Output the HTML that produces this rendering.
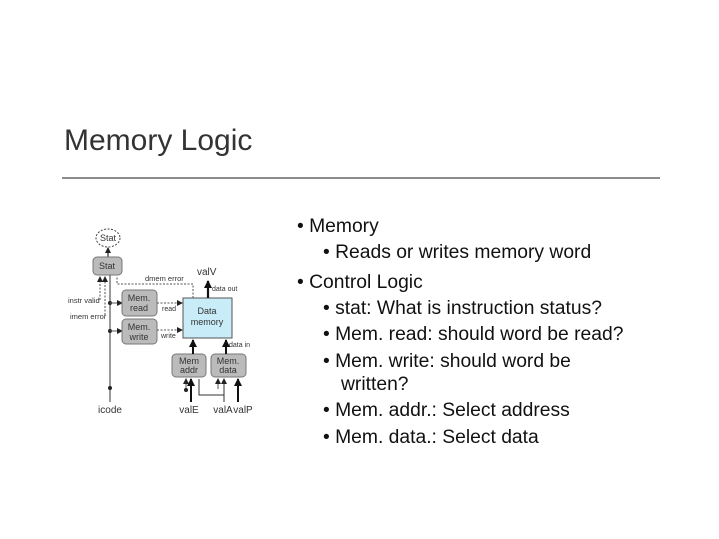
<!DOCTYPE html>
<html><head><meta charset="utf-8"><style>
html,body{margin:0;padding:0;background:#fff;}
svg{display:block;}
</style></head><body>
<svg width="719" height="539" viewBox="0 0 719 539" xmlns="http://www.w3.org/2000/svg" font-family="Liberation Sans, sans-serif">
<defs>
<marker id="a" markerUnits="userSpaceOnUse" markerWidth="6" markerHeight="6" refX="5" refY="3" orient="auto"><path d="M0,0 L6,3 L0,6z" fill="#222"/></marker>
<marker id="b" markerUnits="userSpaceOnUse" markerWidth="8" markerHeight="8" refX="7" refY="4" orient="auto"><path d="M0,0 L8,4 L0,8z" fill="#111"/></marker>
</defs>
<text x="64" y="150" font-size="30" fill="#333">Memory Logic</text>
<line x1="62" y1="178" x2="660" y2="178" stroke="#666" stroke-width="1.5"/>
<g fill="#111" font-size="19.3">
<text x="297" y="232">• Memory</text>
<text x="323" y="258">• Reads or writes memory word</text>
<text x="297" y="288">• Control Logic</text>
<text x="323" y="314">• stat: What is instruction status?</text>
<text x="323" y="340">• Mem. read: should word be read?</text>
<text x="323" y="367">• Mem. write: should word be</text>
<text x="341" y="390">written?</text>
<text x="323" y="416">• Mem. addr.: Select address</text>
<text x="323" y="443">• Mem. data.: Select data</text>
</g>
<g font-size="9" fill="#333">
<ellipse cx="108" cy="238" rx="12" ry="9" fill="#fff" stroke="#444" stroke-dasharray="2,1.5"/>
<text x="108" y="241" text-anchor="middle" font-size="9">Stat</text>
<line x1="108" y1="257" x2="108" y2="248" stroke="#222" stroke-width="1.2" marker-end="url(#a)"/>
<rect x="93" y="257" width="29" height="18" rx="4" fill="#bbb" stroke="#777"/>
<text x="107" y="269" text-anchor="middle">Stat</text>
<line x1="110" y1="275" x2="110" y2="402" stroke="#555" stroke-width="1.2"/>
<circle cx="110" cy="388" r="2" fill="#222"/>
<circle cx="110" cy="303" r="2" fill="#222"/>
<circle cx="110" cy="331" r="2" fill="#222"/>
<line x1="110" y1="303" x2="122" y2="303" stroke="#555" marker-end="url(#a)"/>
<line x1="110" y1="331" x2="122" y2="331" stroke="#555" marker-end="url(#a)"/>
<line x1="100" y1="300" x2="100" y2="277" stroke="#555" stroke-dasharray="2,1.5" marker-end="url(#a)"/>
<line x1="105" y1="315" x2="105" y2="277" stroke="#555" stroke-dasharray="2,1.5" marker-end="url(#a)"/>
<polyline points="193,298 193,284 117,284 117,277" fill="none" stroke="#555" stroke-dasharray="2,1.5"/>
<text x="68" y="303" font-size="7.5">instr valid</text>
<text x="70" y="319" font-size="7.5">imem error</text>
<text x="145" y="281" font-size="7.5">dmem error</text>
<rect x="122" y="290" width="35" height="26" rx="4" fill="#bbb" stroke="#777"/>
<text x="139" y="301" text-anchor="middle">Mem.</text><text x="139" y="311" text-anchor="middle">read</text>
<rect x="122" y="319" width="35" height="25" rx="4" fill="#bbb" stroke="#777"/>
<text x="139" y="330" text-anchor="middle">Mem.</text><text x="139" y="340" text-anchor="middle">write</text>
<line x1="157" y1="303" x2="182" y2="303" stroke="#555" stroke-dasharray="2,1.5" marker-end="url(#a)"/>
<line x1="157" y1="330" x2="182" y2="330" stroke="#555" stroke-dasharray="2,1.5" marker-end="url(#a)"/>
<text x="162" y="311" font-size="7">read</text>
<text x="161" y="338" font-size="7">write</text>
<rect x="183" y="298" width="49" height="40" fill="#c8ecf8" stroke="#555"/>
<text x="207" y="314" text-anchor="middle">Data</text><text x="207" y="325" text-anchor="middle">memory</text>
<line x1="208" y1="298" x2="208" y2="281" stroke="#111" stroke-width="2.2" marker-end="url(#b)"/>
<text x="197" y="275" font-size="10">valV</text>
<text x="212" y="291" font-size="7">data out</text>
<text x="229" y="347" font-size="7">data in</text>
<rect x="172" y="354" width="34" height="23" rx="4" fill="#bbb" stroke="#777"/>
<text x="189" y="364" text-anchor="middle">Mem</text><text x="189" y="373" text-anchor="middle">addr</text>
<rect x="211" y="354" width="35" height="23" rx="4" fill="#bbb" stroke="#777"/>
<text x="228" y="364" text-anchor="middle">Mem.</text><text x="228" y="373" text-anchor="middle">data</text>
<line x1="193" y1="354" x2="193" y2="340" stroke="#111" stroke-width="2" marker-end="url(#b)"/>
<line x1="226" y1="354" x2="226" y2="340" stroke="#111" stroke-width="2" marker-end="url(#b)"/>
<line x1="186" y1="389" x2="186" y2="379" stroke="#555" marker-end="url(#a)"/><circle cx="186" cy="390" r="2" fill="#222"/>
<line x1="191" y1="402" x2="191" y2="379" stroke="#111" stroke-width="2" marker-end="url(#b)"/>
<polyline points="199,379 199,395 224,395" fill="none" stroke="#333"/>
<line x1="224" y1="402" x2="224" y2="379" stroke="#333" marker-end="url(#a)"/>
<line x1="218" y1="389" x2="218" y2="379" stroke="#555" marker-end="url(#a)"/>
<line x1="238" y1="402" x2="238" y2="379" stroke="#111" stroke-width="2" marker-end="url(#b)"/>
<text x="110" y="413" text-anchor="middle" font-size="10">icode</text>
<text x="189" y="413" text-anchor="middle" font-size="10">valE</text>
<text x="223" y="413" text-anchor="middle" font-size="10">valA</text>
<text x="243" y="413" text-anchor="middle" font-size="10">valP</text>
</g>
</svg>
</body></html>
